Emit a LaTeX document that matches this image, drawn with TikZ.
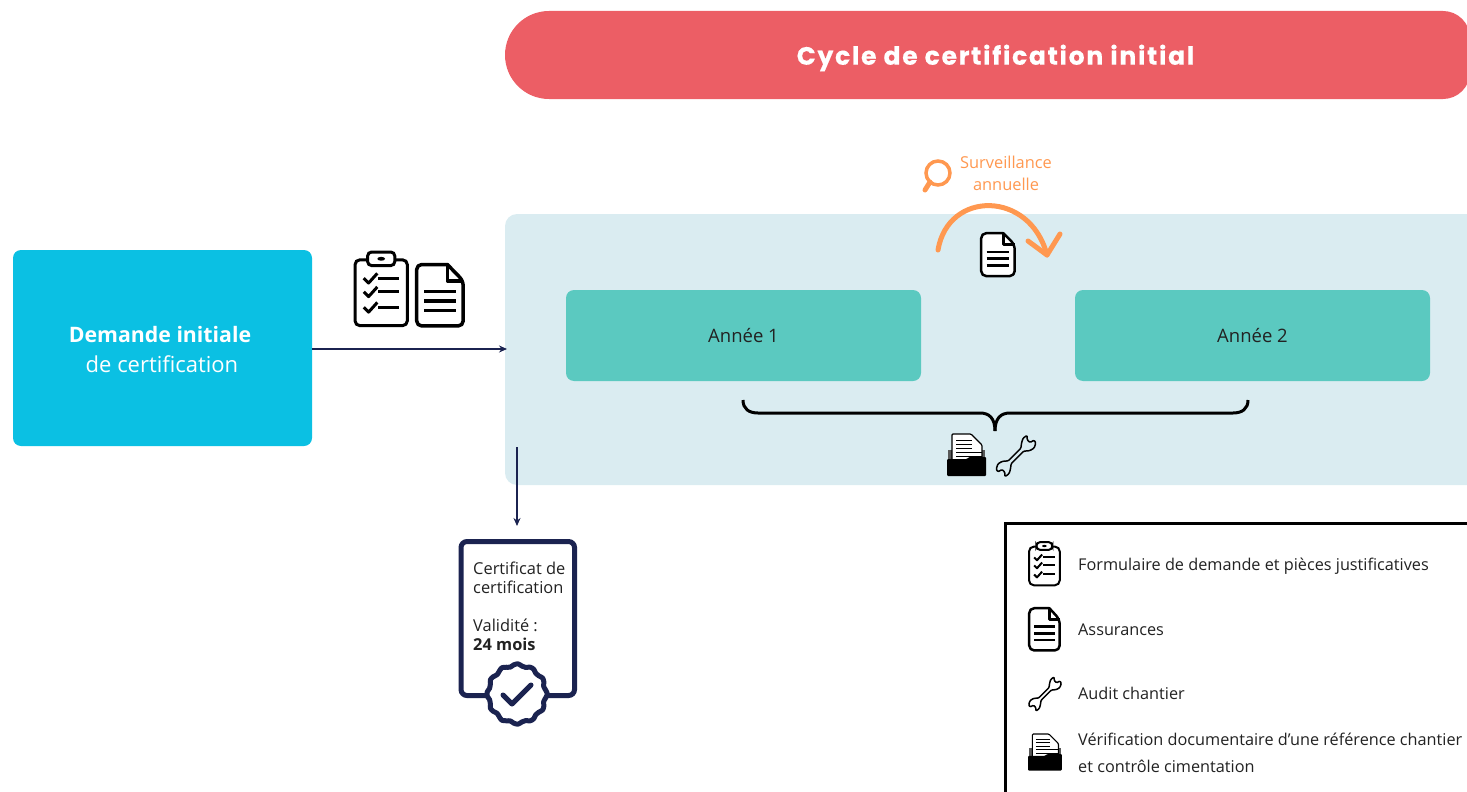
\documentclass[tikz,border=0pt]{standalone}
\usepackage{fontspec}
\setmainfont{Open Sans}
\newfontfamily\titlefont{Poppins}[LetterSpace=7,BoldFeatures={FakeBold=0.4}]
\usetikzlibrary{arrows.meta}
\definecolor{navy}{HTML}{1B2350}
\definecolor{titlered}{HTML}{EC5E65}
\definecolor{panelblue}{HTML}{DAECF1}
\definecolor{boxcyan}{HTML}{0BC0E3}
\definecolor{boxgreen}{HTML}{5BC9C0}
\definecolor{survorange}{HTML}{FF9850}
\definecolor{inktext}{HTML}{222222}
\tikzset{
  block/.style={rectangle,minimum width=#1,inner sep=0pt,outer sep=0pt},
  yearbox/.style={block=355pt,minimum height=91pt,fill=boxgreen,rounded corners=8pt,text=inktext,font=\fontsize{18.5}{22}\selectfont},
  legendtext/.style={anchor=west,inner sep=0pt,text=inktext,align=left,font=\fontsize{16.25}{27}\selectfont},
  flowarrow/.style={draw=navy,line width=2pt,-{Stealth[length=8pt,width=7pt]}},
  clipboardicon/.pic={
    \draw[rounded corners=5pt,fill=white] (0,8) rectangle (54,76);
    \draw[rounded corners=4pt,fill=white] (13,0) rectangle (41,14);
    \fill (27,7) ellipse (4 and 2);
    \foreach \y in {27,41,57}{
      \draw[line join=round] (9,\y) -- (14,\y+5) -- (23,\y-5);
      \draw (24,\y) -- (45,\y);
    }
  },
  docicon/.pic={
    \draw[rounded corners=5pt,line join=round,fill=white] (33,0) -- (0,0) -- (0,64) -- (50,64) -- (50,17) [sharp corners] -- cycle;
    \draw[line join=round] (33,0) -- (33,17) -- (50,17);
    \foreach \y in {28,38,48}{\draw (8,\y) -- (42,\y);}
  },
  wrenchicon/.pic={
    \draw[rounded corners=1pt,line join=round,fill=none,rotate=45]
      (11,-2.5) -- (17,-7) -- (22,-9.5) -- (28,-8.5) -- (24,-4) -- (24.5,0.5) -- (30,2) -- (29,6) -- (23,9) -- (17,7.5) -- (11,2.5)
      -- (-11,2.5) -- (-17,7) -- (-22,9.5) -- (-28,8.5) -- (-24,4) -- (-24.5,-0.5) -- (-30,-2) -- (-29,-6) -- (-23,-9) -- (-17,-7.5) -- (-11,-2.5) -- cycle;
  },
  foldericon/.pic={
    \fill[gray!70!black] (1,16) rectangle (38,30);
    \draw[fill=white,rounded corners=1pt,line width=1.2pt] (5,0) -- (24,0) -- (35,11) -- (35,32) -- (5,32) -- cycle;
    \foreach \y/\l in {6/16,10/16,14/16,18/26,22/26}{\draw[line width=1pt] (9,\y) -- (9+\l,\y);}
    \fill[rounded corners=1pt] (0,25) -- (20,25) -- (22,23) -- (39,23) -- (39,42) -- (0,42) -- cycle;
  }
}
\begin{document}
\begin{tikzpicture}[x=1pt,y=-1pt]
\clip (0,0) rectangle (1467,792);
\fill[titlered,rounded corners=44pt] (700,11) -- (505,11) -- (505,99) -- (700,99) [rounded corners=27pt] -- (1470,99) -- (1470,11) -- cycle;
\node[text=white,font=\titlefont\bfseries\fontsize{25}{28}\selectfont,inner sep=0pt](title) at (995.5,58){Cycle de certification initial};
\node[block=975pt,minimum height=271pt,fill=panelblue,rounded corners=12pt,anchor=north west](panel) at (505,214){};

\node[block=299pt,minimum height=196pt,fill=boxcyan,rounded corners=8pt,anchor=north west](demande) at (13,250){};
\node[text=white,align=center,font=\fontsize{22}{30}\selectfont](demandetext) at (162,350){{\fontsize{21.3}{30}\selectfont\textbf{Demande initiale}\rule{4pt}{0pt}}\\de certification};
\node[yearbox,anchor=north west](annee1) at (566,290){Année 1};
\node[yearbox,anchor=north west](annee2) at (1075,290){Année 2};

% arrows
\coordinate (panelin) at (507,349);
\coordinate (demandeout) at (demande.east |- 0,349);
\coordinate (certout) at (517,447);
\coordinate (certin) at (517,526);
\draw[flowarrow] (demandeout) -- (panelin);
\draw[flowarrow] (certout) -- (certin);

% icons
\pic[line width=3pt,scale=0.97] at (355,252) {clipboardicon};
\pic[line width=3.5pt,xscale=0.93,yscale=0.96] at (416.7,264.5) {docicon};
\pic[line width=2.5pt,scale=0.67] at (981.2,233.2) {docicon};
\pic[line width=1.5pt,scale=0.8] at (1016,456) {wrenchicon};
\pic at (947,434) {foldericon};

% brace
\coordinate (bracel) at (743,400);
\coordinate (bracer) at (1248,400);
\coordinate (bracetip) at (995,431);
\draw[line width=3pt] (bracel) .. controls (743,409) and (749,413) .. (758,413) -- (980,413) .. controls (989,413) and (995,418) .. (bracetip);
\draw[line width=3pt] (bracer) .. controls (1248,409) and (1242,413) .. (1233,413) -- (1010,413) .. controls (1001,413) and (995,418) .. (bracetip);

% surveillance
\node[text=survorange,align=center,font=\fontsize{16.4}{22}\selectfont](surv) at (1006,173){Surveillance\\annuelle};
\draw[survorange,line width=3.5pt] (938,173) circle (12);
\draw[survorange,line width=5pt,line cap=round] (930,182) -- (925,190);
\coordinate (arcstart) at (938,250);
\coordinate (arcend) at (1047,255);
\draw[survorange,line width=5pt,line cap=round,line join=round] (arcstart) .. controls (948,190) and (1030,190) .. (arcend);
\draw[survorange,line width=5pt,line cap=round,line join=round] (1028,241) -- (arcend) -- (1060,234);

% certificate
\node[block=113.5pt,minimum height=154pt,draw=navy,line width=5pt,fill=white,rounded corners=6pt,anchor=north west](cert) at (461,541.5){};
\node[anchor=north west,inner sep=0pt,text=inktext,align=left,font=\fontsize{16.4}{19}\selectfont](certtext) at (473,561.5){Certificat de\\certification\\[19pt]Validité :\\\textbf{24 mois}};
\draw[navy,line width=5pt,fill=white,line join=round] plot[domain=0:352,samples=45,smooth cycle] ({517+(29+1.3*cos(12*\x))*cos(\x)},{694+(29+1.3*cos(12*\x))*sin(\x)});
\draw[navy,line width=5pt,line cap=round,line join=round] (503,695) -- (512,704) -- (531,685);

% legend
\node[block=500pt,minimum height=300pt,draw=black,line width=3pt,fill=white,anchor=north west](legend) at (1005.5,523){};
\pic[line width=2pt,scale=0.57] at (1029,542) {clipboardicon};
\pic[line width=2.5pt,xscale=0.61,yscale=0.66] at (1029.2,608.2) {docicon};
\pic[line width=1.5pt,scale=0.66] at (1045,694) {wrenchicon};
\pic[scale=0.87] at (1028,734) {foldericon};
\node[legendtext] at (1078,566){Formulaire de demande et pièces justificatives};
\node[legendtext] at (1078,629.5){Assurances};
\node[legendtext] at (1078,693.5){Audit chantier};
\node[legendtext] at (1078,753){Vérification documentaire d’une référence chantier\\et contrôle cimentation};
\end{tikzpicture}
\end{document}
